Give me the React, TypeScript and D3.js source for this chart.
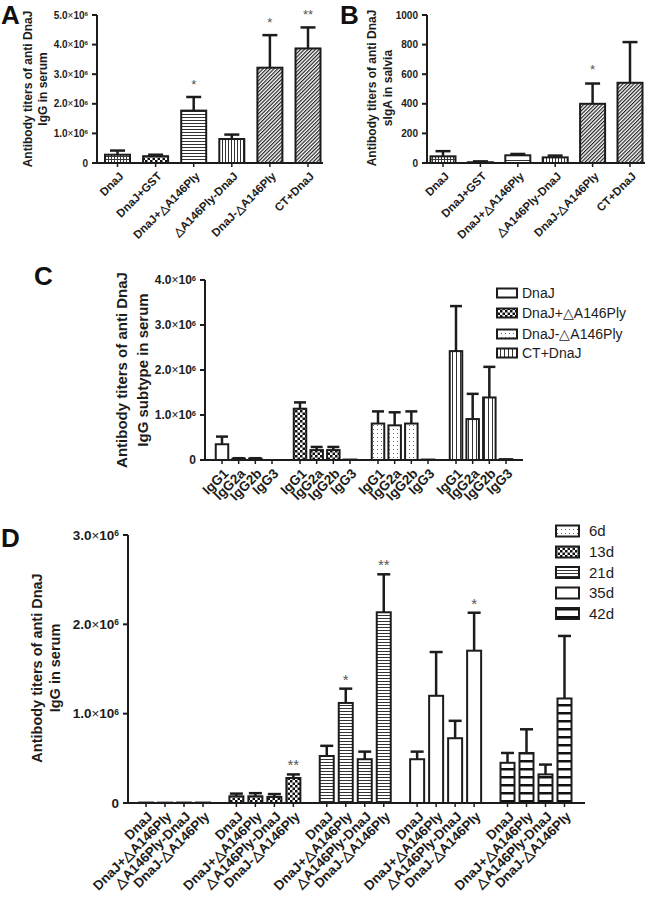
import React from "react";
import * as d3 from "d3";

const FONT = "'Liberation Sans', Arial, Helvetica, sans-serif";
const INK = "#1c1c1c";

// ---------- Panels A & B ----------
const abGroups = ["DnaJ", "DnaJ+GST", "DnaJ+△A146Ply", "△A146Ply-DnaJ", "DnaJ-△A146Ply", "CT+DnaJ"];
const aMeans = [0.28e6, 0.23e6, 1.77e6, 0.81e6, 3.22e6, 3.87e6];
const aUpper = [0.42e6, 0.28e6, 2.23e6, 0.96e6, 4.32e6, 4.58e6];
const aStars = ["", "", "*", "", "*", "**"];
const aTicks = [0, 1e6, 2e6, 3e6, 4e6, 5e6];

const bMeans = [45, 5, 52, 38, 400, 542];
const bUpper = [80, 11, 61, 50, 537, 817];
const bStars = ["", "", "", "", "*", ""];
const bTicks = [0, 200, 400, 600, 800, 1000];

// ---------- Panel C ----------
const cGroups = ["DnaJ", "DnaJ+△A146Ply", "DnaJ-△A146Ply", "CT+DnaJ"];
const cSubtypes = ["IgG1", "IgG2a", "IgG2b", "IgG3"];
const cMeans = [
  [0.35e6, 0.03e6, 0.03e6, 0],
  [1.14e6, 0.22e6, 0.22e6, 0.01e6],
  [0.81e6, 0.77e6, 0.81e6, 0.01e6],
  [2.42e6, 0.91e6, 1.39e6, 0.02e6],
];
const cUpper = [
  [0.52e6, 0.04e6, 0.04e6, 0],
  [1.28e6, 0.29e6, 0.29e6, 0.01e6],
  [1.08e6, 1.06e6, 1.08e6, 0.01e6],
  [3.42e6, 1.47e6, 2.07e6, 0.02e6],
];
const cTicks = [0, 1e6, 2e6, 3e6, 4e6];

// ---------- Panel D ----------
const dDays = ["6d", "13d", "21d", "35d", "42d"];
const dVaccines = ["DnaJ", "DnaJ+△A146Ply", "△A146Ply-DnaJ", "DnaJ-△A146Ply"];
const dMeans = [
  [0.005e6, 0.004e6, 0.005e6, 0.005e6],
  [0.075e6, 0.075e6, 0.068e6, 0.28e6],
  [0.526e6, 1.12e6, 0.49e6, 2.135e6],
  [0.49e6, 1.2e6, 0.725e6, 1.705e6],
  [0.45e6, 0.56e6, 0.32e6, 1.17e6],
];
const dUpper = [
  [0.005e6, 0.004e6, 0.005e6, 0.005e6],
  [0.105e6, 0.11e6, 0.1e6, 0.32e6],
  [0.64e6, 1.28e6, 0.575e6, 2.56e6],
  [0.575e6, 1.69e6, 0.92e6, 2.13e6],
  [0.56e6, 0.825e6, 0.43e6, 1.87e6],
];
const dStars = [
  ["", "", "", ""],
  ["", "", "", "**"],
  ["", "*", "", "**"],
  ["", "", "", "*"],
  ["", "", "", ""],
];
const dTicks = [0, 1e6, 2e6, 3e6];

// fills (styles)
const aFills = ["url(#pGrid)", "url(#pChecker)", "url(#pHLines)", "url(#pVLines)", "url(#pDiag)", "url(#pDiag)"];
const bFills = ["url(#pGrid)", "url(#pChecker)", "url(#pHLinesWide)", "url(#pVLines)", "url(#pDiag)", "url(#pDiag)"];
const cFills = ["#fff", "url(#pChecker)", "url(#pDots)", "url(#pVLinesWide)"];
const dFills = ["url(#pDots)", "url(#pChecker)", "url(#pHLines)", "#fff", "url(#pHThick)"];

type Item = { key: string; cx: number; w: number; v: number; up: number; star: string; fill: string; label: string };

function sci(t: number) {
  if (t === 0) return "0";
  return (
    <>
      {(t / 1e6).toFixed(1)}
      <tspan fontWeight="normal">×</tspan>
      10
      <tspan dy="-0.45em" fontSize="0.62em">6</tspan>
    </>
  );
}

function YAxis({ y, x, ticks, fmt, fs }: any) {
  return (
    <g>
      <line x1={x} x2={x} y1={y(ticks[0]) + 1} y2={y(ticks[ticks.length - 1])} stroke={INK} strokeWidth={2} />
      {ticks.map((t: number) => (
        <g key={t}>
          <line x1={x - 5} x2={x} y1={y(t)} y2={y(t)} stroke={INK} strokeWidth={2} />
          <text x={x - 9} y={y(t)} dy="0.35em" textAnchor="end" fontSize={fs} fontWeight="bold" fill={INK}>
            {fmt(t)}
          </text>
        </g>
      ))}
    </g>
  );
}

function Bars({ items, y, base, capW, x0, x1, labelFs, ldx, ldy, starFs, starGap }: any) {
  return (
    <g>
      {items.map((b: Item) => {
        const top = y(b.v);
        const et = y(b.up);
        return (
          <g key={b.key}>
            <rect x={b.cx - b.w / 2} y={top} width={b.w} height={Math.max(0, base - top)} fill={b.fill} stroke={INK} strokeWidth={2} />
            {b.up > b.v && (
              <g stroke={INK} strokeWidth={2.5}>
                <line x1={b.cx} x2={b.cx} y1={top} y2={et} />
                <line x1={b.cx - capW / 2} x2={b.cx + capW / 2} y1={et} y2={et} />
              </g>
            )}
            {b.star && (
              <text x={b.cx} y={et - starGap} textAnchor="middle" fontSize={starFs} fill="#555">
                {b.star}
              </text>
            )}
            <line x1={b.cx} x2={b.cx} y1={base} y2={base + 4} stroke={INK} strokeWidth={1.5} />
            <text
              transform={`translate(${b.cx + ldx},${base + ldy}) rotate(-45)`}
              dy="0.35em"
              textAnchor="end"
              fontSize={labelFs}
              fontWeight="bold"
              fill={INK}
            >
              {b.label}
            </text>
          </g>
        );
      })}
      <line x1={x0 - 1} x2={x1} y1={base} y2={base} stroke={INK} strokeWidth={2} />
    </g>
  );
}

function YTitle({ lines, xs, cy, fs }: any) {
  return (
    <g>
      {lines.map((l: string, i: number) => (
        <text key={i} transform={`translate(${xs[i]},${cy}) rotate(-90)`} textAnchor="middle" fontSize={fs} fontWeight="bold" fill={INK}>
          {l}
        </text>
      ))}
    </g>
  );
}

function Legend({ labels, fills, x, ys, bw, bh, fs, tx }: any) {
  return (
    <g>
      {labels.map((l: string, i: number) => (
        <g key={l}>
          <rect x={x} y={ys[i] - bh / 2} width={bw} height={bh} fill={fills[i]} stroke={INK} strokeWidth={2} />
          <text x={tx} y={ys[i]} dy="0.36em" fontSize={fs} fill={INK}>
            {l}
          </text>
        </g>
      ))}
    </g>
  );
}

export default function App() {
  const yA = d3.scaleLinear().domain([0, 5e6]).range([163, 15]);
  const xA = d3.scalePoint<string>().domain(abGroups).range([117.5, 308]);
  const yB = d3.scaleLinear().domain([0, 1000]).range([163, 15]);
  const xB = d3.scalePoint<string>().domain(abGroups).range([443, 630]);
  const yC = d3.scaleLinear().domain([0, 4e6]).range([460, 280]);
  const xC = d3.scalePoint<string>().domain(cGroups).range([247, 481]);
  const xCi = d3.scalePoint<string>().domain(cSubtypes).range([-25, 25]);
  const yD = d3.scaleLinear().domain([0, 3e6]).range([803, 535]);
  const xD = d3.scalePoint<string>().domain(dDays).range([174.5, 536]);
  const xDi = d3.scalePoint<string>().domain(dVaccines).range([-28.5, 28.5]);

  const itemsA: Item[] = abGroups.map((g, i) => ({
    key: "a" + i, cx: xA(g)!, w: 25, v: aMeans[i], up: aUpper[i], star: aStars[i], fill: aFills[i], label: g,
  }));
  const itemsB: Item[] = abGroups.map((g, i) => ({
    key: "b" + i, cx: xB(g)!, w: 25, v: bMeans[i], up: bUpper[i], star: bStars[i], fill: bFills[i], label: g,
  }));
  const itemsC: Item[] = cGroups.flatMap((g, gi) =>
    cSubtypes.map((s, si) => ({
      key: `c${gi}-${si}`, cx: xC(g)! + xCi(s)!, w: 12.5, v: cMeans[gi][si], up: cUpper[gi][si], star: "", fill: cFills[gi], label: s,
    }))
  );
  const itemsD: Item[] = dDays.flatMap((d, gi) =>
    dVaccines.map((s, si) => ({
      key: `d${gi}-${si}`, cx: xD(d)! + xDi(s)!, w: 14, v: dMeans[gi][si], up: dUpper[gi][si], star: dStars[gi][si], fill: dFills[gi], label: s,
    }))
  );

  return (
    <svg width={650} height={906} style={{ position: "absolute", left: 0, top: 0, background: "#fff" }} fontFamily={FONT}>
      <defs>
        <pattern id="pGrid" width="3" height="3" patternUnits="userSpaceOnUse">
          <rect width="3" height="3" fill="#fff" />
          <path d="M0 0.5H3M0.5 0V3" stroke="#3a3a3a" strokeWidth="1" />
        </pattern>
        <pattern id="pChecker" width="5" height="5" patternUnits="userSpaceOnUse">
          <rect width="5" height="5" fill="#fff" />
          <rect width="2.5" height="2.5" fill="#111" />
          <rect x="2.5" y="2.5" width="2.5" height="2.5" fill="#111" />
        </pattern>
        <pattern id="pHLines" width="4" height="3" patternUnits="userSpaceOnUse">
          <rect width="4" height="3" fill="#fff" />
          <path d="M0 0.5H4" stroke="#333" strokeWidth="1" />
        </pattern>
        <pattern id="pHLinesWide" width="4" height="5" patternUnits="userSpaceOnUse">
          <rect width="4" height="5" fill="#fff" />
          <path d="M0 0.5H4" stroke="#333" strokeWidth="1" />
        </pattern>
        <pattern id="pVLines" width="3" height="4" patternUnits="userSpaceOnUse">
          <rect width="3" height="4" fill="#fff" />
          <path d="M0.5 0V4" stroke="#333" strokeWidth="1" />
        </pattern>
        <pattern id="pVLinesWide" width="4" height="4" patternUnits="userSpaceOnUse">
          <rect width="4" height="4" fill="#fff" />
          <path d="M0.5 0V4" stroke="#333" strokeWidth="1" />
        </pattern>
        <pattern id="pDiag" width="2.6" height="3" patternUnits="userSpaceOnUse" patternTransform="rotate(45)">
          <rect width="2.6" height="3" fill="#fff" />
          <path d="M0.6 0V3" stroke="#222" strokeWidth="1.2" />
        </pattern>
        <pattern id="pDots" width="4" height="4" patternUnits="userSpaceOnUse">
          <rect width="4" height="4" fill="#fff" />
          <rect x="1" y="1" width="1" height="1" fill="#666" />
        </pattern>
        <pattern id="pHThick" width="4" height="8" patternUnits="userSpaceOnUse">
          <rect width="4" height="8" fill="#fff" />
          <rect y="0" width="4" height="2.5" fill="#111" />
        </pattern>
      </defs>

      {/* Panel letters */}
      <g fontWeight="bold" fontSize={26} fill="#111">
        <text x={1} y={24}>A</text>
        <text x={340} y={24}>B</text>
        <text x={34} y={285}>C</text>
        <text x={1} y={547}>D</text>
      </g>

      {/* Panel A */}
      <YTitle lines={["Antibody titers of anti DnaJ", "IgG in serum"]} xs={[32, 47]} cy={89} fs={12} />
      <YAxis y={yA} x={97} ticks={aTicks} fmt={sci} fs={10} />
      <Bars items={itemsA} y={yA} base={163} capW={15} x0={97} x1={323} labelFs={11.5} ldx={4} ldy={11} starFs={13} starGap={8} />

      {/* Panel B */}
      <YTitle lines={["Antibody titers of anti DnaJ", "sIgA in salvia"]} xs={[376, 392]} cy={88} fs={12} />
      <YAxis y={yB} x={427} ticks={bTicks} fmt={(t: number) => String(t)} fs={10} />
      <Bars items={itemsB} y={yB} base={163} capW={15} x0={427} x1={645} labelFs={11.5} ldx={4} ldy={11} starFs={13} starGap={10} />

      {/* Panel C */}
      <YTitle lines={["Antibody titers of anti DnaJ", "IgG subtype in serum"]} xs={[127, 148]} cy={370} fs={15} />
      <YAxis y={yC} x={205} ticks={cTicks} fmt={sci} fs={12} />
      <Bars items={itemsC} y={yC} base={460} capW={12} x0={205} x1={523} labelFs={13.5} ldx={4} ldy={11} starFs={13} starGap={8} />
      <Legend labels={cGroups} fills={cFills} x={497} ys={[293, 313, 334, 353]} bw={20} bh={9} fs={14} tx={522} />

      {/* Panel D */}
      <YTitle lines={["Antibody titers of anti DnaJ", "IgG in serum"]} xs={[42, 60]} cy={668} fs={14.5} />
      <YAxis y={yD} x={128} ticks={dTicks} fmt={sci} fs={13.5} />
      <Bars items={itemsD} y={yD} base={803} capW={13} x0={128} x1={585} labelFs={13.5} ldx={4} ldy={11} starFs={15} starGap={4} />
      <Legend labels={dDays} fills={dFills} x={556} ys={[531, 552, 572.5, 593, 613.5]} bw={23} bh={11} fs={15} tx={589} />
    </svg>
  );
}
